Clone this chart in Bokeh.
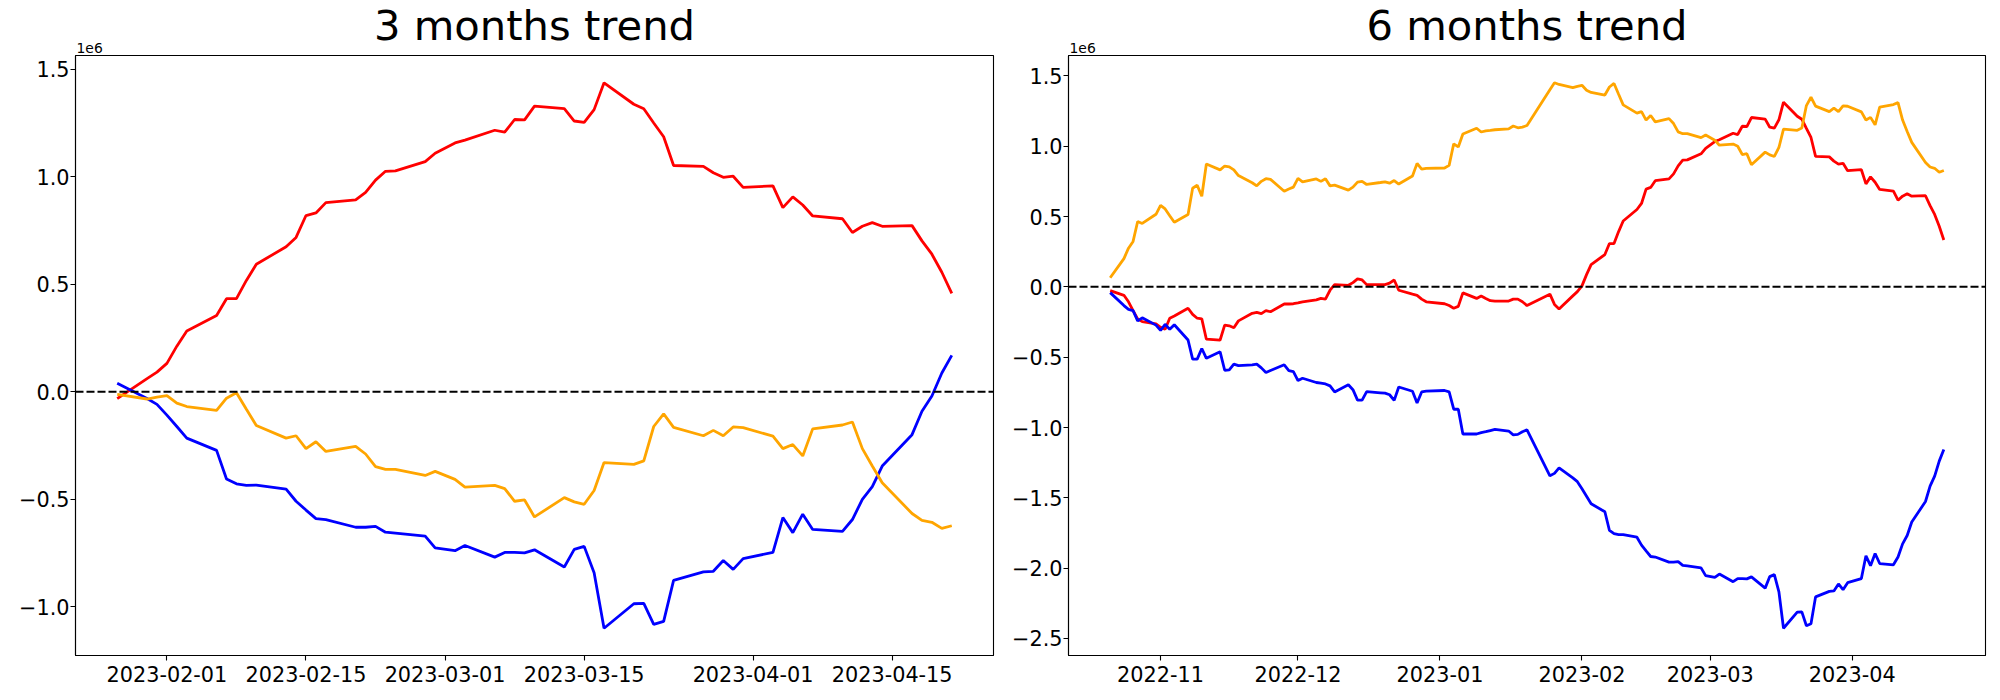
import pandas as pd
from bokeh.plotting import figure
from bokeh.layouts import row
from bokeh.models import (Range1d, FixedTicker, CustomJSTickFormatter, Span, Title)
from bokeh.embed import file_html
from bokeh.resources import INLINE

# ---------------- data (values in units of 1e6) ----------------
left_dates = [
    "2023-01-27", "2023-01-30", "2023-01-31", "2023-02-01", "2023-02-02", "2023-02-03",
    "2023-02-06", "2023-02-07", "2023-02-08", "2023-02-09", "2023-02-10",
    "2023-02-13", "2023-02-14", "2023-02-15", "2023-02-16", "2023-02-17",
    "2023-02-20", "2023-02-21", "2023-02-22", "2023-02-23", "2023-02-24",
    "2023-02-27", "2023-02-28", "2023-03-02", "2023-03-03",
    "2023-03-06", "2023-03-07", "2023-03-08", "2023-03-09", "2023-03-10",
    "2023-03-13", "2023-03-14", "2023-03-15", "2023-03-16", "2023-03-17",
    "2023-03-20", "2023-03-21", "2023-03-22", "2023-03-23", "2023-03-24",
    "2023-03-27", "2023-03-28", "2023-03-29", "2023-03-30", "2023-03-31",
    "2023-04-03", "2023-04-04", "2023-04-05", "2023-04-06", "2023-04-07",
    "2023-04-10", "2023-04-11", "2023-04-12", "2023-04-13", "2023-04-14",
    "2023-04-17", "2023-04-18", "2023-04-19", "2023-04-20", "2023-04-21",
]
left_red = [
    -0.032, 0.061, 0.091, 0.132, 0.212, 0.283,
    0.355, 0.433, 0.433, 0.518, 0.593,
    0.675, 0.718, 0.820, 0.832, 0.880,
    0.893, 0.928, 0.985, 1.026, 1.028,
    1.071, 1.110, 1.158, 1.171,
    1.217, 1.208, 1.267, 1.265, 1.329,
    1.318, 1.260, 1.254, 1.313, 1.438,
    1.338, 1.317, 1.251, 1.187, 1.053,
    1.049, 1.019, 0.998, 1.003, 0.951,
    0.958, 0.857, 0.907, 0.869, 0.818,
    0.805, 0.741, 0.770, 0.787, 0.770,
    0.773, 0.702, 0.640, 0.556, 0.458,
]
left_blue = [
    0.039, -0.032, -0.059, -0.109, -0.162, -0.216,
    -0.273, -0.406, -0.429, -0.436, -0.435,
    -0.454, -0.510, -0.551, -0.591, -0.595,
    -0.631, -0.631, -0.627, -0.654, -0.658,
    -0.672, -0.727, -0.740, -0.716,
    -0.770, -0.748, -0.748, -0.750, -0.736,
    -0.816, -0.734, -0.720, -0.843, -1.101,
    -0.987, -0.985, -1.083, -1.069, -0.878,
    -0.839, -0.836, -0.786, -0.827, -0.777,
    -0.748, -0.586, -0.656, -0.570, -0.641,
    -0.650, -0.595, -0.501, -0.442, -0.346,
    -0.200, -0.091, -0.020, 0.087, 0.169,
]
left_orange = [
    -0.012, -0.034, -0.025, -0.018, -0.053, -0.069,
    -0.087, -0.030, -0.005, -0.082, -0.157,
    -0.216, -0.205, -0.265, -0.233, -0.278,
    -0.255, -0.290, -0.349, -0.362, -0.362,
    -0.390, -0.371, -0.408, -0.444,
    -0.436, -0.451, -0.510, -0.504, -0.583,
    -0.493, -0.513, -0.524, -0.460, -0.330,
    -0.338, -0.322, -0.162, -0.103, -0.166,
    -0.205, -0.180, -0.205, -0.164, -0.167,
    -0.207, -0.265, -0.246, -0.299, -0.173,
    -0.155, -0.141, -0.265, -0.346, -0.424,
    -0.567, -0.599, -0.608, -0.636, -0.624,
]

right_dates = [
    "2022-10-21", "2022-10-24", "2022-10-25", "2022-10-26", "2022-10-27", "2022-10-28",
    "2022-10-31", "2022-11-01", "2022-11-02", "2022-11-03", "2022-11-04",
    "2022-11-07", "2022-11-08", "2022-11-09", "2022-11-10", "2022-11-11",
    "2022-11-14", "2022-11-15", "2022-11-16", "2022-11-17", "2022-11-18",
    "2022-11-21", "2022-11-22", "2022-11-23", "2022-11-24", "2022-11-25",
    "2022-11-28", "2022-11-29", "2022-11-30", "2022-12-01", "2022-12-02",
    "2022-12-05", "2022-12-06", "2022-12-07", "2022-12-08", "2022-12-09",
    "2022-12-12", "2022-12-13", "2022-12-14", "2022-12-15", "2022-12-16",
    "2022-12-19", "2022-12-20", "2022-12-21", "2022-12-22", "2022-12-23",
    "2022-12-26", "2022-12-27", "2022-12-28", "2022-12-29",
    "2023-01-02", "2023-01-03", "2023-01-04", "2023-01-05", "2023-01-06",
    "2023-01-09", "2023-01-10", "2023-01-11", "2023-01-12", "2023-01-13",
    "2023-01-16", "2023-01-17", "2023-01-18", "2023-01-19", "2023-01-20",
    "2023-01-25", "2023-01-26",
    "2023-01-27", "2023-01-30", "2023-01-31", "2023-02-01", "2023-02-02", "2023-02-03",
    "2023-02-06", "2023-02-07", "2023-02-08", "2023-02-09", "2023-02-10",
    "2023-02-13", "2023-02-14", "2023-02-15", "2023-02-16", "2023-02-17",
    "2023-02-20", "2023-02-21", "2023-02-22", "2023-02-23", "2023-02-24",
    "2023-02-27", "2023-02-28", "2023-03-02", "2023-03-03",
    "2023-03-06", "2023-03-07", "2023-03-08", "2023-03-09", "2023-03-10",
    "2023-03-13", "2023-03-14", "2023-03-15", "2023-03-16", "2023-03-17",
    "2023-03-20", "2023-03-21", "2023-03-22", "2023-03-23", "2023-03-24",
    "2023-03-27", "2023-03-28", "2023-03-29", "2023-03-30", "2023-03-31",
    "2023-04-03", "2023-04-04", "2023-04-05", "2023-04-06", "2023-04-07",
    "2023-04-10", "2023-04-11", "2023-04-12", "2023-04-13", "2023-04-14",
    "2023-04-17", "2023-04-18", "2023-04-19", "2023-04-20", "2023-04-21",
]
right_red = [
    -0.027, -0.060, -0.106, -0.169, -0.228, -0.247,
    -0.264, -0.288, -0.302, -0.223, -0.207,
    -0.152, -0.196, -0.223, -0.228, -0.372,
    -0.378, -0.272, -0.277, -0.291, -0.242,
    -0.188, -0.182, -0.190, -0.169, -0.177,
    -0.122, -0.122, -0.120, -0.114, -0.106,
    -0.092, -0.082, -0.087, -0.024, 0.016,
    0.011, 0.030, 0.057, 0.049, 0.016,
    0.016, 0.016, 0.027, 0.049, -0.024,
    -0.052, -0.060, -0.087, -0.106,
    -0.120, -0.133, -0.152, -0.139, -0.043,
    -0.082, -0.065, -0.082, -0.098, -0.101,
    -0.101, -0.087, -0.087, -0.106, -0.133,
    -0.052, -0.125,
    -0.157, -0.064, -0.034, 0.007, 0.087, 0.158,
    0.230, 0.308, 0.308, 0.393, 0.468,
    0.550, 0.593, 0.695, 0.707, 0.755,
    0.768, 0.803, 0.860, 0.901, 0.903,
    0.946, 0.985, 1.033, 1.046,
    1.092, 1.083, 1.142, 1.140, 1.204,
    1.193, 1.135, 1.129, 1.188, 1.313,
    1.213, 1.192, 1.126, 1.062, 0.928,
    0.924, 0.894, 0.873, 0.878, 0.826,
    0.833, 0.732, 0.782, 0.744, 0.693,
    0.680, 0.616, 0.645, 0.662, 0.645,
    0.648, 0.577, 0.515, 0.431, 0.333,
]
right_blue = [
    -0.041, -0.133, -0.160, -0.169, -0.242, -0.220,
    -0.272, -0.310, -0.266, -0.302, -0.269,
    -0.378, -0.514, -0.514, -0.438, -0.508,
    -0.462, -0.593, -0.590, -0.549, -0.560,
    -0.554, -0.549, -0.576, -0.609, -0.595,
    -0.554, -0.595, -0.603, -0.666, -0.650,
    -0.680, -0.685, -0.690, -0.704, -0.747,
    -0.696, -0.731, -0.805, -0.805, -0.745,
    -0.753, -0.756, -0.767, -0.807, -0.712,
    -0.742, -0.826, -0.747, -0.742,
    -0.737, -0.747, -0.870, -0.870, -1.046,
    -1.046, -1.036, -1.030, -1.022, -1.014,
    -1.025, -1.052, -1.049, -1.030, -1.017,
    -1.343, -1.326,
    -1.287, -1.358, -1.385, -1.435, -1.488, -1.542,
    -1.599, -1.732, -1.755, -1.762, -1.761,
    -1.780, -1.836, -1.877, -1.917, -1.921,
    -1.957, -1.957, -1.953, -1.980, -1.984,
    -1.998, -2.053, -2.066, -2.042,
    -2.096, -2.074, -2.074, -2.076, -2.062,
    -2.142, -2.060, -2.046, -2.169, -2.427,
    -2.313, -2.311, -2.409, -2.395, -2.204,
    -2.165, -2.162, -2.112, -2.153, -2.103,
    -2.074, -1.912, -1.982, -1.896, -1.967,
    -1.976, -1.921, -1.827, -1.768, -1.672,
    -1.526, -1.417, -1.346, -1.239, -1.157,
]
right_orange = [
    0.065, 0.201, 0.275, 0.323, 0.465, 0.451,
    0.516, 0.579, 0.554, 0.506, 0.459,
    0.514, 0.701, 0.723, 0.644, 0.873,
    0.832, 0.859, 0.853, 0.832, 0.791,
    0.740, 0.718, 0.750, 0.769, 0.764,
    0.680, 0.696, 0.709, 0.772, 0.747,
    0.767, 0.750, 0.769, 0.718, 0.723,
    0.688, 0.709, 0.745, 0.750, 0.728,
    0.742, 0.747, 0.737, 0.756, 0.731,
    0.788, 0.878, 0.837, 0.843,
    0.845, 0.864, 1.017, 0.995, 1.087,
    1.128, 1.101, 1.109, 1.112, 1.117,
    1.123, 1.144, 1.131, 1.136, 1.147,
    1.402, 1.451,
    1.439, 1.417, 1.426, 1.433, 1.398, 1.382,
    1.364, 1.421, 1.446, 1.369, 1.294,
    1.235, 1.246, 1.186, 1.218, 1.173,
    1.196, 1.161, 1.102, 1.089, 1.089,
    1.061, 1.080, 1.043, 1.007,
    1.015, 1.000, 0.941, 0.947, 0.868,
    0.958, 0.938, 0.927, 0.991, 1.121,
    1.113, 1.129, 1.289, 1.348, 1.285,
    1.246, 1.271, 1.246, 1.287, 1.284,
    1.244, 1.186, 1.205, 1.152, 1.278,
    1.296, 1.310, 1.186, 1.105, 1.027,
    0.884, 0.852, 0.843, 0.815, 0.827,
]

left_title = "3 months trend"
right_title = "6 months trend"
offset_text = "1e6"
left_ticks = ["2023-02-01", "2023-02-15", "2023-03-01", "2023-03-15", "2023-04-01", "2023-04-15"]
right_ticks = ["2022-11-01", "2022-12-01", "2023-01-01", "2023-02-01", "2023-03-01", "2023-04-01"]
left_yticks = [-1.0, -0.5, 0.0, 0.5, 1.0, 1.5]
right_yticks = [-2.5, -2.0, -1.5, -1.0, -0.5, 0.0, 0.5, 1.0, 1.5]

COLORS = {"red": "#ff0000", "blue": "#0000ff", "orange": "#ffa500"}
FONT = "DejaVu Sans"


def ms(s):
    return pd.Timestamp(s).value // 10**6


def make_panel(title, dates, series, xticks, yticks, date_len,
               frame_w, border_left, border_right):
    x = pd.to_datetime(dates)
    xs = [ms(d) for d in dates]
    x0, x1 = min(xs), max(xs)
    allv = [v for s in series.values() for v in s]
    y0, y1 = min(allv), max(allv)
    mx = 0.05 * (x1 - x0)
    my = 0.05 * (y1 - y0)
    p = figure(
        frame_width=frame_w, frame_height=600,
        x_axis_type="datetime",
        x_range=Range1d(x0 - mx, x1 + mx), y_range=Range1d(y0 - my, y1 + my),
        output_backend="svg", toolbar_location=None,
        min_border_left=border_left, min_border_right=border_right,
        min_border_top=55, min_border_bottom=44,
    )
    # offset text (closest to the frame), then the main title above it
    p.add_layout(Title(text=offset_text, align="left", text_font=FONT,
                       text_font_size="13.9px", text_font_style="normal",
                       text_color="black", standoff=5.5, offset=1), "above")
    p.add_layout(Title(text=title, align="center", text_font=FONT,
                       text_font_size="41.7px", text_font_style="normal",
                       text_color="black", standoff=-25, offset=0), "above")

    p.grid.visible = False
    p.outline_line_color = "black"
    p.outline_line_width = 1.1
    p.outline_line_alpha = 1.0

    for ax in (p.xaxis[0], p.yaxis[0]):
        ax.axis_line_color = "black"
        ax.axis_line_width = 1.1
        ax.major_tick_line_color = "black"
        ax.major_tick_line_width = 1.1
        ax.major_tick_out = 5
        ax.major_tick_in = 0
        ax.minor_tick_line_color = None
        ax.major_label_text_font = FONT
        ax.major_label_text_font_size = "20.8px"
        ax.major_label_text_color = "black"
    p.xaxis.major_label_standoff = 5
    p.yaxis.major_label_standoff = 1

    p.xaxis.ticker = FixedTicker(ticks=[ms(t) for t in xticks])
    p.xaxis.formatter = CustomJSTickFormatter(
        code=f"return new Date(tick).toISOString().slice(0, {date_len});")
    p.yaxis.ticker = FixedTicker(ticks=yticks)
    p.yaxis.formatter = CustomJSTickFormatter(
        code="return tick.toFixed(1).replace('-', '\\u2212');")

    p.add_layout(Span(location=0, dimension="width", line_color="black",
                      line_width=2.0, line_dash="8 3"))

    for name in ("red", "blue", "orange"):
        p.line(x, series[name], line_color=COLORS[name], line_width=2.8)
    return p


p1 = make_panel(left_title, left_dates,
                {"red": left_red, "blue": left_blue, "orange": left_orange},
                left_ticks, left_yticks, 10, 918, 75, 5)
p2 = make_panel(right_title, right_dates,
                {"red": right_red, "blue": right_blue, "orange": right_orange},
                right_ticks, right_yticks, 7, 917, 70, 13)

layout = row(p1, p2)
open("out.html", "w").write(file_html(layout, INLINE))
